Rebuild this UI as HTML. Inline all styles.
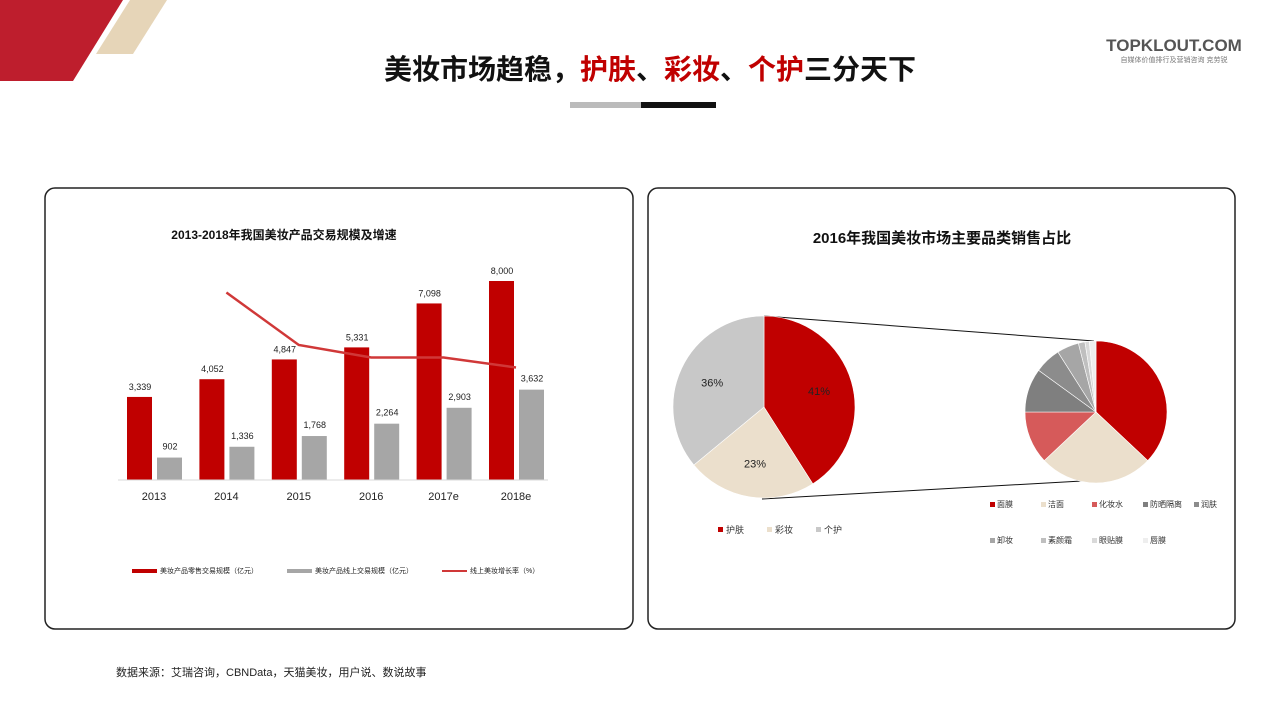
<!DOCTYPE html>
<html><head><meta charset="utf-8">
<style>
body{margin:0;width:1279px;height:719px;background:#fff;overflow:hidden;font-family:"Liberation Sans","Noto Sans CJK SC",sans-serif;}
svg text{font-family:"Liberation Sans","Noto Sans CJK SC",sans-serif;}
</style></head>
<body>
<svg width="1279" height="719" viewBox="0 0 1279 719">
<polygon points="0,0 123,0 73,81 0,81" fill="#be1e2d"/>
<polygon points="130,0 167,0 133,54 96,54" fill="#e6d5b8"/>
<text x="650" y="79" text-anchor="middle" font-size="28" font-weight="bold" fill="#111">美妆市场趋稳，<tspan fill="#c00000">护肤</tspan>、<tspan fill="#c00000">彩妆</tspan>、<tspan fill="#c00000">个护</tspan>三分天下</text>
<rect x="570" y="102" width="71" height="6" fill="#bbb"/>
<rect x="641" y="102" width="75" height="6" fill="#111"/>
<text x="1174" y="51" text-anchor="middle" font-size="17" font-weight="bold" fill="#555">TOPKLOUT.COM</text>
<text x="1174" y="62" text-anchor="middle" font-size="7" fill="#777">自媒体价值排行及营销咨询 克劳锐</text>

<rect x="45" y="188" width="588" height="441" rx="10" fill="#fff" stroke="#222" stroke-width="1.5"/>
<rect x="648" y="188" width="587" height="441" rx="10" fill="#fff" stroke="#222" stroke-width="1.5"/>

<text x="284" y="239" text-anchor="middle" font-size="12" font-weight="bold" fill="#111">2013-2018年我国美妆产品交易规模及增速</text>
<g id="barchart"></g>
<line x1="118" y1="480" x2="548" y2="480" stroke="#d9d9d9"/>

<g font-size="7" fill="#222">
<rect x="132" y="569" width="25" height="4" fill="#c00000"/>
<text x="160" y="573">美妆产品零售交易规模（亿元）</text>
<rect x="287" y="569" width="25" height="4" fill="#a6a6a6"/>
<text x="315" y="573">美妆产品线上交易规模（亿元）</text>
<rect x="442" y="570" width="25" height="2" fill="#d03838"/>
<text x="470" y="573">线上美妆增长率（%）</text>
</g>

<text x="942" y="243" text-anchor="middle" font-size="15" font-weight="bold" fill="#111">2016年我国美妆市场主要品类销售占比</text>
<line x1="764" y1="316" x2="1094" y2="341" stroke="#111" stroke-width="1"/>
<line x1="762" y1="499" x2="1082" y2="481" stroke="#111" stroke-width="1"/>
<g id="pie1"></g>
<g id="pie2"></g>

<g font-size="9" fill="#333">
<rect x="718" y="527" width="5" height="5" fill="#c00000"/><text x="726" y="533">护肤</text>
<rect x="767" y="527" width="5" height="5" fill="#ebdfcc"/><text x="775" y="533">彩妆</text>
<rect x="816" y="527" width="5" height="5" fill="#c8c8c8"/><text x="824" y="533">个护</text>
</g>
<g id="leg2" font-size="8" fill="#333"></g>

<text x="116" y="676" font-size="11" fill="#222">数据来源：艾瑞咨询，CBNData，天猫美妆，用户说、数说故事</text>
</svg>
<script>
const years=["2013","2014","2015","2016","2017e","2018e"];
const retail=[3339,4052,4847,5331,7098,8000];
const online=[902,1336,1768,2264,2903,3632];
const growthYears=["2014","2015","2016","2017e","2018e"];
const growth=[75,54,49,49,45];
const pie1Labels=["护肤","彩妆","个护"];
const pie1Values=[41,23,36];
const pie2Labels=["面膜","洁面","化妆水","防晒隔离","润肤","卸妆","素颜霜","眼贴膜","唇膜"];
const pie2Values=[37,26,12,10,6,5,1.5,1,1.5];

const NS="http://www.w3.org/2000/svg";
function mk(t,a,p){const e=document.createElementNS(NS,t);for(const k in a)e.setAttribute(k,a[k]);p.appendChild(e);return e;}
const xC=i=>154+i*72.4;
const yV=v=>480-v*199/8000;
const yG=g=>480-g*2.5;
const bc=document.getElementById('barchart');
years.forEach((y,i)=>{
 let r=mk('rect',{x:xC(i)-27,y:yV(retail[i]),width:25,height:480-yV(retail[i]),fill:'#c00000'},bc);
 
 
 let g=mk('rect',{x:xC(i)+3,y:yV(online[i]),width:25,height:480-yV(online[i]),fill:'#a6a6a6'},bc);
 
 
 let t1=mk('text',{x:xC(i)-14,y:yV(retail[i])-7,'text-anchor':'middle','font-size':9,fill:'#222'},bc);
 t1.textContent=retail[i].toLocaleString('en-US');
 
 
 let t2=mk('text',{x:xC(i)+16,y:yV(online[i])-8,'text-anchor':'middle','font-size':9,fill:'#222'},bc);
 t2.textContent=online[i].toLocaleString('en-US');
 
 
 let tx=mk('text',{x:xC(i),y:500,'text-anchor':'middle','font-size':11,fill:'#222'},bc);
 tx.textContent=y;
 
 
});
const pts=growthYears.map((y,i)=>[xC(years.indexOf(y)),yG(growth[i])]);
let pl=mk('polyline',{points:pts.map(p=>p.join(',')).join(' '),fill:'none',stroke:'#d03838','stroke-width':2.5},bc);



function pie(gid,cx,cy,r,vals,cols,names,labels){
 const g=document.getElementById(gid);const tot=vals.reduce((a,b)=>a+b,0);let a=0;
 vals.forEach((v,i)=>{
  const a0=a/tot*2*Math.PI,a1=(a+v)/tot*2*Math.PI;a+=v;
  const p=ang=>[cx+r*Math.sin(ang),cy-r*Math.cos(ang)];
  const [x0,y0]=p(a0),[x1,y1]=p(a1);
  let s=mk('path',{d:`M${cx},${cy}L${x0},${y0}A${r},${r} 0 ${a1-a0>Math.PI?1:0} 1 ${x1},${y1}Z`,fill:cols[i],stroke:'#fff','stroke-width':0.6},g);
  
  
  if(labels){const m=(a0+a1)/2;let t=mk('text',{x:cx+r*0.63*Math.sin(m),y:cy-r*0.63*Math.cos(m)+4,'text-anchor':'middle','font-size':11,fill:'#222'},g);
   t.textContent=v+'%';
   
   }
 });
}
pie('pie1',764,407,91,pie1Values,['#c00000','#ebdfcc','#c8c8c8'],pie1Labels,true);
const c2=['#c00000','#ebdfcc','#d65a5a','#7f7f7f','#8c8c8c','#a6a6a6','#bfbfbf','#d9d9d9','#eeeeee'];
pie('pie2',1096,412,71,pie2Values,c2,pie2Labels,false);
const lg=document.getElementById('leg2');
pie2Labels.forEach((n,i)=>{
 const col=i%5,row=Math.floor(i/5);const x=990+col*51,y=507+row*36;
 let s=mk('rect',{x:x,y:y-5,width:5,height:5,fill:c2[i]},lg);
 
 
 let t=mk('text',{x:x+7,y:y},lg);t.textContent=n;
 
 
});
</script>
</body></html>
